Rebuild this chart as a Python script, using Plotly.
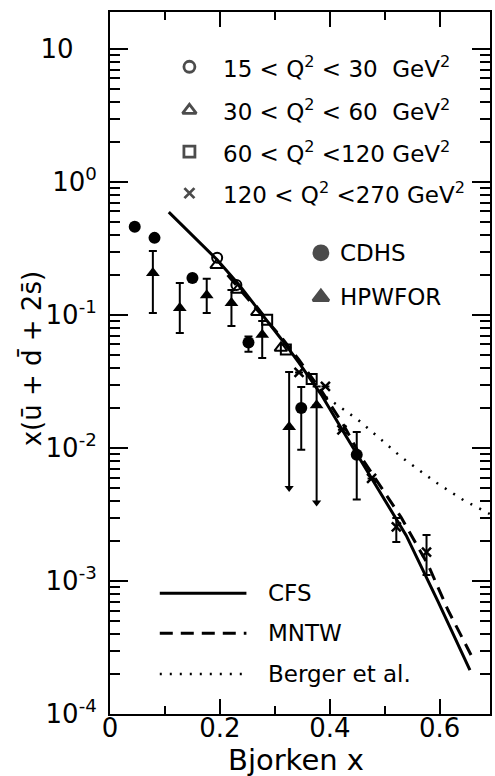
import plotly.graph_objects as go

# ---- measured structure function points ----
# CDHS (filled circles)
cdhs_x = [0.045, 0.081, 0.150, 0.252, 0.348, 0.449]
cdhs_y = [0.46, 0.38, 0.19, 0.062, 0.020, 0.0089]
cdhs_hi = [0.46, 0.38, 0.19, 0.069, 0.0288, 0.0132]
cdhs_lo = [0.46, 0.38, 0.19, 0.053, 0.0097, 0.0041]

# HPWFOR (filled triangles); the last two are upper limits (arrows down)
hpw_x = [0.078, 0.127, 0.176, 0.221, 0.277, 0.326, 0.376]
hpw_y = [0.207, 0.113, 0.141, 0.123, 0.071, 0.0144, 0.021]
hpw_hi = [0.303, 0.174, 0.187, 0.154, 0.090, 0.0373, 0.029]
hpw_lo = [0.1035, 0.0733, 0.1035, 0.0826, 0.0475, 0.0050, 0.0039]
hpw_limit = [False, False, False, False, False, True, True]

# Q^2 bins (open symbols, crosses)
q1_x = [0.195, 0.230]
q1_y = [0.269, 0.168]
q2_x = [0.194, 0.232, 0.268, 0.311]
q2_y = [0.237, 0.154, 0.105, 0.0565]
q3_x = [0.286, 0.320, 0.367]
q3_y = [0.092, 0.055, 0.033]
q4_x = [0.344, 0.392, 0.422, 0.476, 0.521, 0.576]
q4_y = [0.037, 0.029, 0.0137, 0.0059, 0.00255, 0.00165]
q4_hi = [0.037, 0.029, 0.0137, 0.0059, 0.00298, 0.00222]
q4_lo = [0.037, 0.029, 0.0137, 0.0059, 0.00196, 0.00111]

# ---- parametrisations ----
cfs_x = [0.107, 0.195, 0.235, 0.271, 0.313, 0.344, 0.386, 0.425, 0.458, 0.494, 0.539, 0.597, 0.655]
cfs_y = [0.594, 0.260, 0.168, 0.109, 0.0649, 0.0436, 0.0246, 0.0132, 0.00785, 0.00440, 0.00220, 0.000700, 0.000214]
mntw_x = [0.214, 0.268, 0.313, 0.344, 0.386, 0.425, 0.458, 0.494, 0.530, 0.579, 0.615, 0.657]
mntw_y = [0.200, 0.109, 0.0672, 0.0459, 0.0264, 0.0149, 0.00841, 0.0050, 0.00300, 0.00132, 0.000605, 0.000278]
berger_x = [0.393, 0.452, 0.494, 0.530, 0.592, 0.643, 0.691]
berger_y = [0.0242, 0.0162, 0.0115, 0.00855, 0.00555, 0.00406, 0.00319]

# ---- axis labels ----
x_tickvals = [0, 0.2, 0.4, 0.6]
x_ticktext = ["0", "0.2", "0.4", "0.6"]
y_tickvals = [1e-4, 1e-3, 1e-2, 1e-1, 1e0, 1e1]
y_ticktext = ["10<sup>-4</sup>", "10<sup>-3</sup>", "10<sup>-2</sup>",
              "10<sup>-1</sup>", "10<sup>0</sup>", "10<sup>\u2007\u2007</sup>"]

FONT = "DejaVu Sans"
K = "black"

fig = go.Figure()

# theory curves
fig.add_trace(go.Scatter(x=cfs_x, y=cfs_y, mode="lines",
                         line=dict(color=K, width=3)))
fig.add_trace(go.Scatter(x=mntw_x, y=mntw_y, mode="lines",
                         line=dict(color=K, width=3, dash="13px,8px")))
fig.add_trace(go.Scatter(x=berger_x, y=berger_y, mode="lines",
                         line=dict(color=K, width=2.5, dash="2px,8px")))


def err(y, hi, lo):
    return dict(type="data", symmetric=False,
                array=[h - v for h, v in zip(hi, y)],
                arrayminus=[v - l for v, l in zip(y, lo)],
                color=K, thickness=2, width=4)


# CDHS
fig.add_trace(go.Scatter(x=cdhs_x, y=cdhs_y, mode="markers",
                         marker=dict(symbol="circle", size=12, color=K),
                         error_y=err(cdhs_y, cdhs_hi, cdhs_lo)))

# HPWFOR: ordinary error bars, and downward lines with arrowheads for limits
lo_bar = [y if lim else l for y, l, lim in zip(hpw_y, hpw_lo, hpw_limit)]
fig.add_trace(go.Scatter(x=hpw_x, y=hpw_y, mode="markers",
                         marker=dict(symbol="triangle-up", size=12, color=K),
                         error_y=err(hpw_y, hpw_hi, lo_bar)))
lim_x, lim_y, arr_x, arr_y = [], [], [], []
for x, y, l, lim in zip(hpw_x, hpw_y, hpw_lo, hpw_limit):
    if lim:
        lim_x += [x, x, None]
        lim_y += [y, l, None]
        arr_x.append(x)
        arr_y.append(l)
fig.add_trace(go.Scatter(x=lim_x, y=lim_y, mode="lines", line=dict(color=K, width=2)))
fig.add_trace(go.Scatter(x=arr_x, y=arr_y, mode="markers",
                         marker=dict(symbol="triangle-down", size=8, color=K)))

# Q^2 bins
fig.add_trace(go.Scatter(x=q1_x, y=q1_y, mode="markers",
                         marker=dict(symbol="circle-open", size=10, color=K, line=dict(width=2))))
fig.add_trace(go.Scatter(x=q2_x, y=q2_y, mode="markers",
                         marker=dict(symbol="triangle-up-open", size=11, color=K, line=dict(width=2))))
fig.add_trace(go.Scatter(x=q3_x, y=q3_y, mode="markers",
                         marker=dict(symbol="square-open", size=10, color=K, line=dict(width=2))))
fig.add_trace(go.Scatter(x=q4_x, y=q4_y, mode="markers",
                         marker=dict(symbol="x-thin", size=9, color=K, line=dict(width=2.5, color=K)),
                         error_y=err(q4_y, q4_hi, q4_lo)))

# key symbols, placed on an overlay in plot-fraction coordinates
key_sym = ["circle-open", "triangle-up-open", "square-open", "x-thin", "circle", "triangle-up"]
key_x = [0.209, 0.209, 0.209, 0.209, 0.555, 0.555]
key_y = [0.922, 0.860, 0.801, 0.742, 0.657, 0.594]
key_size = [11, 12, 11, 10, 14, 14]
fig.add_trace(go.Scatter(x=key_x, y=key_y, mode="markers", xaxis="x2", yaxis="y2",
                         marker=dict(symbol=key_sym, size=key_size, color=K,
                                     line=dict(width=2.8, color=K))))

# key texts
q_labels = ["15 &lt; Q<sup>2</sup> &lt; 30  GeV<sup>2</sup>",
            "30 &lt; Q<sup>2</sup> &lt; 60  GeV<sup>2</sup>",
            "60 &lt; Q<sup>2</sup> &lt;120 GeV<sup>2</sup>",
            "120 &lt; Q<sup>2</sup> &lt;270 GeV<sup>2</sup>"]
ann = []
for t, yy in zip(q_labels, key_y[:4]):
    ann.append(dict(x=0.293, y=yy, xref="paper", yref="paper", text=t, showarrow=False,
                    xanchor="left", yanchor="middle", font=dict(family=FONT, size=23, color=K)))
for t, yy in zip(["CDHS", "HPWFOR"], key_y[4:]):
    ann.append(dict(x=0.6, y=yy, xref="paper", yref="paper", text=t, showarrow=False,
                    xanchor="left", yanchor="middle", font=dict(family=FONT, size=23, color=K)))

line_keys = [("CFS", None, 3), ("MNTW", "13px,8px", 3), ("Berger et al.", "2px,8px", 2.5)]
line_key_y = [0.172, 0.115, 0.057]
shapes = []
for (t, d, w), yy in zip(line_keys, line_key_y):
    ln = dict(color=K, width=w)
    if d:
        ln["dash"] = d
    shapes.append(dict(type="line", xref="paper", yref="paper", x0=0.131, x1=0.359,
                       y0=yy, y1=yy, line=ln))
    ann.append(dict(x=0.41, y=yy, xref="paper", yref="paper", text=t, showarrow=False,
                    xanchor="left", yanchor="middle", font=dict(family=FONT, size=23, color=K)))

# axis titles
ann.append(dict(x=-0.204, y=0.506, xref="paper", yref="paper",
                text="x(u\u0304 + d\u0304 + 2s\u0304)", textangle=-90, showarrow=False,
                xanchor="center", yanchor="middle", font=dict(family=FONT, size=26, color=K)))
ann.append(dict(x=0.49, y=-0.066, xref="paper", yref="paper", text="Bjorken x",
                showarrow=False, xanchor="center", yanchor="middle",
                font=dict(family=FONT, size=29, color=K)))

minor_y = [k * 10.0 ** n for n in range(-4, 1) for k in range(2, 10)]

fig.update_layout(
    width=495, height=776,
    margin=dict(l=110, r=3, t=12, b=62),
    paper_bgcolor="white", plot_bgcolor="white",
    showlegend=False,
    font=dict(family=FONT, color=K),
    xaxis=dict(range=[0, 0.6915], tickvals=x_tickvals, ticktext=x_ticktext,
               ticks="inside", ticklen=15, tickwidth=2, tickcolor=K,
               minor=dict(tickvals=[0.1, 0.3, 0.5], ticks="inside", ticklen=8,
                          tickwidth=2, tickcolor=K, showgrid=False),
               showline=True, linewidth=2, linecolor=K, mirror="ticks",
               showgrid=False, zeroline=False, tickfont=dict(size=26, color=K),
               ticklabelstandoff=-10),
    yaxis=dict(type="log", range=[-4, 1.278], tickvals=y_tickvals, ticktext=y_ticktext,
               ticks="inside", ticklen=18, tickwidth=2, tickcolor=K,
               minor=dict(tickvals=minor_y, ticks="inside", ticklen=10,
                          tickwidth=2, tickcolor=K, showgrid=False),
               showline=True, linewidth=2, linecolor=K, mirror="ticks",
               showgrid=False, zeroline=False, tickfont=dict(size=26, color=K),
               ticklabelstandoff=6),
    xaxis2=dict(overlaying="x", range=[0, 1], visible=False),
    yaxis2=dict(overlaying="y", range=[0, 1], visible=False),
    annotations=ann,
    shapes=shapes,
)

fig.write_html("out.html")
